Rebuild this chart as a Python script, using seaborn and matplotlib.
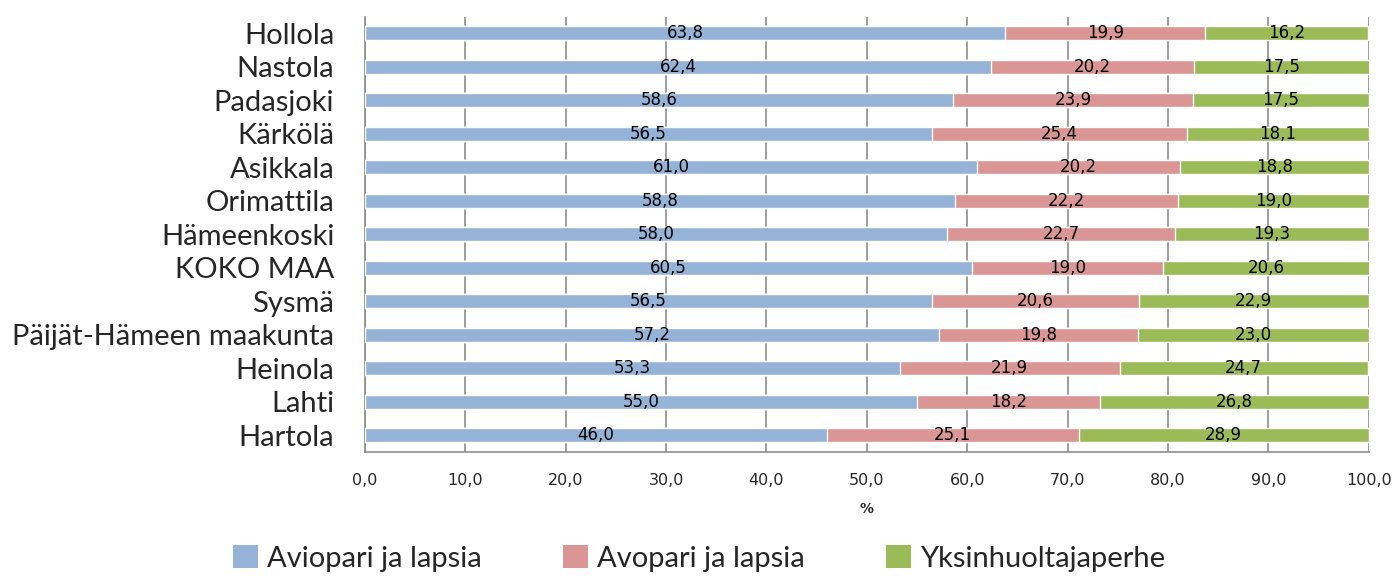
import matplotlib.pyplot as plt
import seaborn as sns
import pandas as pd
import numpy as np
from matplotlib.patches import Patch

# data (percent of families with children)
regions = ['Hollola', 'Nastola', 'Padasjoki', 'Kärkölä', 'Asikkala', 'Orimattila',
           'Hämeenkoski', 'KOKO MAA', 'Sysmä', 'Päijät-Hämeen maakunta',
           'Heinola', 'Lahti', 'Hartola']
aviopari = [63.8, 62.4, 58.6, 56.5, 61.0, 58.8, 58.0, 60.5, 56.5, 57.2, 53.3, 55.0, 46.0]
avopari = [19.9, 20.2, 23.9, 25.4, 20.2, 22.2, 22.7, 19.0, 20.6, 19.8, 21.9, 18.2, 25.1]
yksin = [16.2, 17.5, 17.5, 18.1, 18.8, 19.0, 19.3, 20.6, 22.9, 23.0, 24.7, 26.8, 28.9]
series = ['Aviopari ja lapsia', 'Avopari ja lapsia', 'Yksinhuoltajaperhe']
colors = ['#95B3D7', '#D99694', '#9BBB59']

df = pd.DataFrame({'alue': regions, series[0]: aviopari,
                   series[1]: avopari, series[2]: yksin})
vals = df[series].to_numpy()
cum = vals.cumsum(axis=1)

sns.set_theme(style="white")
plt.rcParams['font.family'] = ['DejaVu Sans']

fig = plt.figure(figsize=(13.98, 5.76), dpi=100)
ax = fig.add_axes([0.261, 0.215, 0.718, 0.756])

# stacked bars: draw cumulative totals from the back to the front
for i in reversed(range(3)):
    sns.barplot(x=cum[:, i], y=df['alue'], orient='h', color=colors[i],
                width=0.42, saturation=1, ax=ax, zorder=3)

# value labels centred in each segment
for r in range(len(regions)):
    for i in range(3):
        centre = cum[r, i] - vals[r, i] / 2
        ax.text(centre, r, f"{vals[r, i]:.1f}".replace('.', ','),
                ha='center', va='center', fontsize=12, color='black', zorder=4)

ax.set_xlim(0, 100)
ax.set_ylim(len(regions) - 0.5, -0.5)
ticks = np.arange(0, 101, 10)
ax.set_xticks(ticks)
ax.set_xticklabels([f"{t:.1f}".replace('.', ',') for t in ticks], fontsize=11.5)
ax.xaxis.grid(True, color='#8C8C8C', linewidth=1.2, linestyle='-', zorder=0)
ax.set_axisbelow(True)

ax.set_yticks(range(len(regions)))
ax.set_yticklabels(regions, fontsize=21, family=['Lato', 'DejaVu Sans'])
ax.set_yticks(np.arange(-0.5, len(regions)), minor=True)
ax.tick_params(axis='y', which='major', length=0, pad=22)
ax.tick_params(axis='y', which='minor', length=6, color='#8C8C8C', width=1.2)
ax.tick_params(axis='x', which='major', length=6, color='#8C8C8C', width=1.2,
               direction='inout', pad=12)

for side in ['top', 'right']:
    ax.spines[side].set_visible(False)
for side in ['left', 'bottom']:
    ax.spines[side].set_color('#8C8C8C')
    ax.spines[side].set_linewidth(1.2)

ax.set_ylabel('')
ax.set_xlabel('%', fontsize=10, fontweight='bold', labelpad=10)

handles = [Patch(facecolor=c, edgecolor='none') for c in colors]
fig.legend(handles, series, loc='lower center', bbox_to_anchor=(0.5, -0.038),
           ncol=3, frameon=False, handlelength=0.85, handleheight=0.85,
           handletextpad=0.3, columnspacing=2.8,
           prop={'family': ['Lato', 'DejaVu Sans'], 'size': 21})

fig.savefig('out.png', dpi=100)
